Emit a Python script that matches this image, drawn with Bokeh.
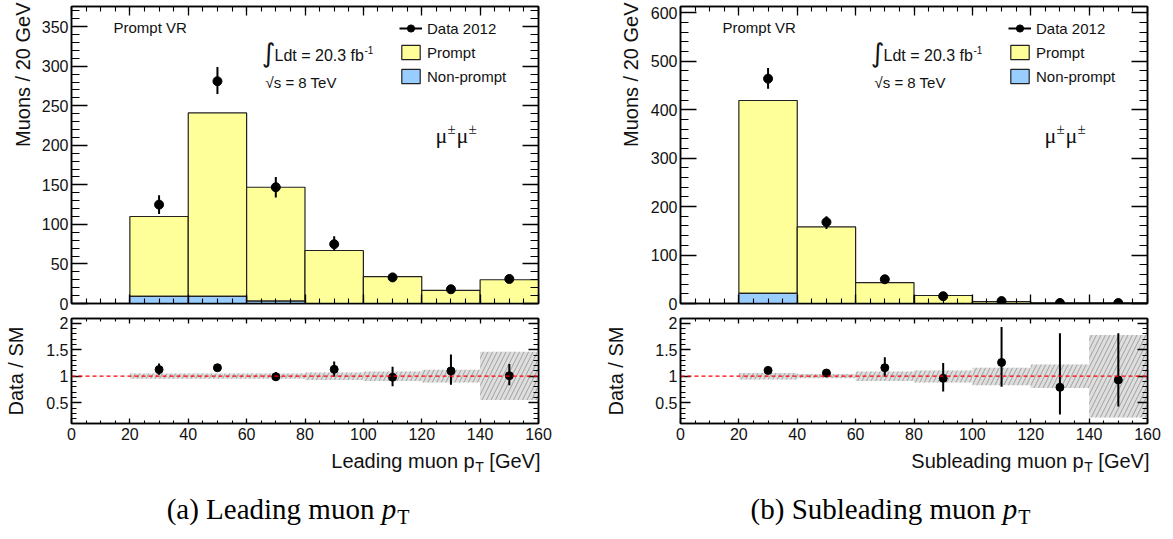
import numpy as np
from bokeh.plotting import figure
from bokeh.models import (Range1d, LinearAxis, SingleIntervalTicker, Label, Legend,
                          LegendItem, Span, CustomLabelingPolicy, Title)
from bokeh.layouts import column, row
from bokeh.embed import file_html
from bokeh.resources import INLINE
from bokeh.core.properties import value

FONT = "Liberation Sans"
SERIF = "Liberation Serif"

# ---------------- data ----------------
bin_lo = [20, 40, 60, 80, 100, 120, 140]
bin_hi = [40, 60, 80, 100, 120, 140, 160]
bin_mid = [30, 50, 70, 90, 110, 130, 150]

# (a) leading muon pT
lead_prompt = [101, 232, 144, 67, 34, 16.5, 30]
lead_nonprompt = [9, 9, 3, 0, 0, 0, 0]
lead_data = [125, 281, 147, 75, 33, 18, 31]
lead_data_lo = [113, 265, 134, 67, 28, 14, 26]
lead_data_hi = [137, 299, 160, 85, 38, 21, 35]
lead_ratio = [1.125, 1.16, 0.99, 1.13, 0.98, 1.10, 1.01]
lead_ratio_lo = [1.03, 1.12, 0.91, 0.99, 0.81, 0.84, 0.83]
lead_ratio_hi = [1.24, 1.21, 1.08, 1.28, 1.18, 1.41, 1.23]
lead_band_lo = [0.95, 0.95, 0.95, 0.93, 0.91, 0.88, 0.55]
lead_band_hi = [1.05, 1.05, 1.05, 1.07, 1.09, 1.12, 1.46]

# (b) subleading muon pT
sub_prompt = [398, 158, 43, 16.5, 4, 1.3, 1.1]
sub_nonprompt = [21, 0, 0, 0, 0, 0, 0]
sub_data = [464, 168, 50, 15, 5, 1, 1]
sub_data_lo = [443, 154, 43, 11, 3, 0.2, 0.2]
sub_data_hi = [486, 180, 57, 19, 8, 2.3, 2.3]
sub_ratio = [1.11, 1.06, 1.16, 0.96, 1.26, 0.79, 0.93]
sub_ratio_lo = [1.07, 0.99, 0.99, 0.71, 0.80, 0.28, 0.43]
sub_ratio_hi = [1.15, 1.12, 1.36, 1.25, 1.93, 1.81, 1.81]
sub_band_lo = [0.94, 0.96, 0.91, 0.88, 0.83, 0.78, 0.22]
sub_band_hi = [1.06, 1.04, 1.09, 1.11, 1.16, 1.22, 1.78]

ratio_tick_labels = {0.5: "0.5", 1: "1", 1.5: "1.5", 2: "2"}

FW = 467          # frame width
TOP_FH = 297      # top frame height
RAT_FH = 105      # ratio frame height
NO_LABELS = CustomLabelingPolicy(code="return []")


def style_axis(ax, tin, tmin, labels=True, fs="16px", standoff=3):
    ax.major_tick_in = tin
    ax.major_tick_out = 0
    ax.minor_tick_in = tmin
    ax.minor_tick_out = 0
    ax.axis_line_color = "black"
    ax.axis_line_width = 1.5
    ax.major_tick_line_color = "black"
    ax.minor_tick_line_color = "black"
    ax.major_tick_line_width = 1.3
    ax.minor_tick_line_width = 1.1
    ax.major_label_text_font = FONT
    ax.major_label_text_color = "#111111"
    if labels:
        ax.major_label_text_font_size = fs
        ax.major_label_standoff = standoff
    else:
        ax.major_label_policy = NO_LABELS
        ax.major_label_text_font_size = "1px"
        ax.major_label_standoff = 0
    ax.axis_label_text_font = FONT
    ax.axis_label_text_font_style = "normal"
    ax.axis_label_text_font_size = "20px"
    ax.axis_label_text_color = "#111111"


def lab(p, x, y, text, size, font=FONT, style="normal", align="left", baseline="middle"):
    p.add_layout(Label(x=x, y=y, x_units="screen", y_units="screen", text=text,
                       text_font=font, text_font_size=size, text_font_style=style,
                       text_align=align, text_baseline=baseline, text_color="#111111"))


def top_panel(prompt, nonprompt, data, dlo, dhi, ymax, yint, bl, br, title_standoff):
    p = figure(frame_width=FW, frame_height=TOP_FH, x_range=Range1d(0, 160),
               y_range=Range1d(0, ymax), output_backend="svg", toolbar_location=None,
               min_border_left=bl, min_border_right=br, min_border_top=6,
               min_border_bottom=10)
    p.grid.visible = False
    p.outline_line_color = "black"
    p.outline_line_width = 1.5
    p.background_fill_color = "white"

    npa = np.array(nonprompt, dtype=float)
    pra = np.array(prompt, dtype=float)
    r_pr = p.quad(left=bin_lo, right=bin_hi, bottom=npa, top=npa + pra,
                  fill_color="#ffff99", line_color="#222222", line_width=1.2)
    r_np = p.quad(left=bin_lo, right=bin_hi, bottom=0, top=npa,
                  fill_color="#99ccff", line_color="#222222", line_width=1.2)
    r_err = p.segment(x0=bin_mid, y0=dlo, x1=bin_mid, y1=dhi,
                      line_color="black", line_width=2)
    r_pt = p.scatter(bin_mid, data, size=9, color="black")

    xb = p.below[0]
    xb.ticker = SingleIntervalTicker(interval=20, num_minor_ticks=4)
    style_axis(xb, 9, 5, labels=False)
    yl = p.left[0]
    yl.ticker = SingleIntervalTicker(interval=yint, num_minor_ticks=5)
    style_axis(yl, 16, 8, labels=True)
    # ROOT-style y title, right-aligned to the top of the axis
    p.add_layout(Title(text="Muons / 20 GeV", align="right", offset=-4,
                       standoff=title_standoff, text_font=FONT, text_font_size="20px",
                       text_font_style="normal", text_color="#111111"), "left")

    xa = LinearAxis(ticker=SingleIntervalTicker(interval=20, num_minor_ticks=4))
    style_axis(xa, 9, 5, labels=False)
    p.add_layout(xa, "above")
    yr = LinearAxis(ticker=SingleIntervalTicker(interval=yint, num_minor_ticks=5))
    style_axis(yr, 16, 8, labels=False)
    p.add_layout(yr, "right")

    leg = Legend(items=[LegendItem(label="Data 2012", renderers=[r_err, r_pt]),
                        LegendItem(label="Prompt", renderers=[r_pr]),
                        LegendItem(label="Non-prompt", renderers=[r_np])],
                 location=(328, 218), border_line_color=None, background_fill_alpha=0,
                 padding=0, margin=0, spacing=6, glyph_height=18, glyph_width=23,
                 label_standoff=5, label_height=18, label_text_font=FONT,
                 label_text_font_size="15px", label_text_color="#111111")
    p.add_layout(leg)

    lab(p, 42, 276, "Prompt VR", "15px")
    lab(p, 197, 251, "\u222b", "26px", font="DejaVu Sans", align="center")
    lab(p, 203, 248, "Ldt = 20.3 fb", "16px")
    lab(p, 293, 254, "-1", "10px")
    lab(p, 194, 221, "\u221as = 8 TeV", "15px")
    lab(p, 364, 168, "\u03bc", "22px", font=SERIF, baseline="alphabetic")
    lab(p, 376, 175, "\u00b1", "15px", font=SERIF)
    lab(p, 385, 168, "\u03bc", "22px", font=SERIF, baseline="alphabetic")
    lab(p, 397, 175, "\u00b1", "15px", font=SERIF)
    return p


def ratio_panel(ratio, rlo, rhi, blo, bhi, bl, br, ylab_standoff):
    p = figure(frame_width=FW, frame_height=RAT_FH, x_range=Range1d(0, 160),
               y_range=Range1d(0.108, 2.089), output_backend="svg",
               toolbar_location=None, min_border_left=bl, min_border_right=br,
               min_border_top=5, min_border_bottom=22)
    p.grid.visible = False
    p.outline_line_color = "black"
    p.outline_line_width = 1.5

    p.quad(left=bin_lo, right=bin_hi, bottom=blo, top=bhi, fill_color="#dedede",
           line_color=None, hatch_pattern="/", hatch_color="#8f8f8f",
           hatch_scale=9, hatch_weight=0.8)
    p.add_layout(Span(location=1, dimension="width", line_color="red",
                      line_dash="4 3", line_width=1.2))
    p.segment(x0=bin_mid, y0=rlo, x1=bin_mid, y1=rhi, line_color="black", line_width=2)
    p.scatter(bin_mid, ratio, size=8, color="black")

    xb = p.below[0]
    xb.ticker = SingleIntervalTicker(interval=20, num_minor_ticks=4)
    style_axis(xb, 5, 3, labels=True, standoff=4)
    yl = p.left[0]
    yl.ticker = SingleIntervalTicker(interval=0.5, num_minor_ticks=5)
    style_axis(yl, 10, 5, labels=True)
    yl.major_label_overrides = ratio_tick_labels
    yl.axis_label = "Data / SM"
    yl.axis_label_standoff = ylab_standoff

    xa = LinearAxis(ticker=SingleIntervalTicker(interval=20, num_minor_ticks=4))
    style_axis(xa, 5, 3, labels=False)
    p.add_layout(xa, "above")
    yr = LinearAxis(ticker=SingleIntervalTicker(interval=0.5, num_minor_ticks=5))
    style_axis(yr, 10, 5, labels=False)
    p.add_layout(yr, "right")
    return p


lt = top_panel(lead_prompt, lead_nonprompt, lead_data, lead_data_lo, lead_data_hi,
               375.5, 50, 71, 62, 10)
rt = top_panel(sub_prompt, sub_nonprompt, sub_data, sub_data_lo, sub_data_hi,
               613, 100, 80, 26, 12)
lr = ratio_panel(lead_ratio, lead_ratio_lo, lead_ratio_hi, lead_band_lo, lead_band_hi,
                 71, 62, 16)
rr = ratio_panel(sub_ratio, sub_ratio_lo, sub_ratio_hi, sub_band_lo, sub_band_hi,
                 80, 26, 25)

# ---------------- x-axis titles and captions (page-pixel coordinates) ----------------
cap = figure(width=1173, height=92, x_range=Range1d(0, 1173), y_range=Range1d(537, 445),
             x_axis_type=None, y_axis_type=None, output_backend="svg",
             toolbar_location=None, min_border=0)
cap.outline_line_color = None
cap.grid.visible = False

# axis titles, right-aligned at the frames' right edges
for R, name in [(540, "Leading muon p"), (1149, "Subleading muon p")]:
    cap.text(x=[R], y=[460], text=["[GeV]"], text_font=value(FONT), text_font_size="20px",
             text_align="right", text_baseline="middle", text_color="#111111")
    cap.text(x=[R - 56.7], y=[466], text=["T"], text_font=value(FONT), text_font_size="14px",
             text_align="right", text_baseline="middle", text_color="#111111")
    cap.text(x=[R - 65.8], y=[460], text=[name], text_font=value(FONT), text_font_size="20px",
             text_align="right", text_baseline="middle", text_color="#111111")

# captions: "(x) ... muon" + italic p + roman subscript T
F = 29
for center, main, em in [(287.5, "(a) Leading muon", 7.165), (890, "(b) Subleading muon", 8.444)]:
    total = em * F + 0.25 * F + 0.5 * F + 1 + 0.611 * 20
    xp = center - total / 2 + em * F + 0.25 * F      # where the italic p starts
    cap.text(x=[xp - 0.25 * F], y=[508], text=[main], text_font=value(SERIF),
             text_font_size=f"{F}px", text_align="right", text_baseline="middle",
             text_color="black")
    cap.text(x=[xp], y=[508], text=["p"], text_font=value(SERIF), text_font_size=f"{F}px",
             text_font_style="italic", text_align="left", text_baseline="middle",
             text_color="black")
    cap.text(x=[xp + 0.5 * F + 1], y=[516], text=["T"], text_font=value(SERIF),
             text_font_size="20px", text_align="left", text_baseline="middle",
             text_color="black")

layout = column(row(lt, rt), row(lr, rr), cap)
open("out.html", "w").write(file_html(layout, INLINE))
